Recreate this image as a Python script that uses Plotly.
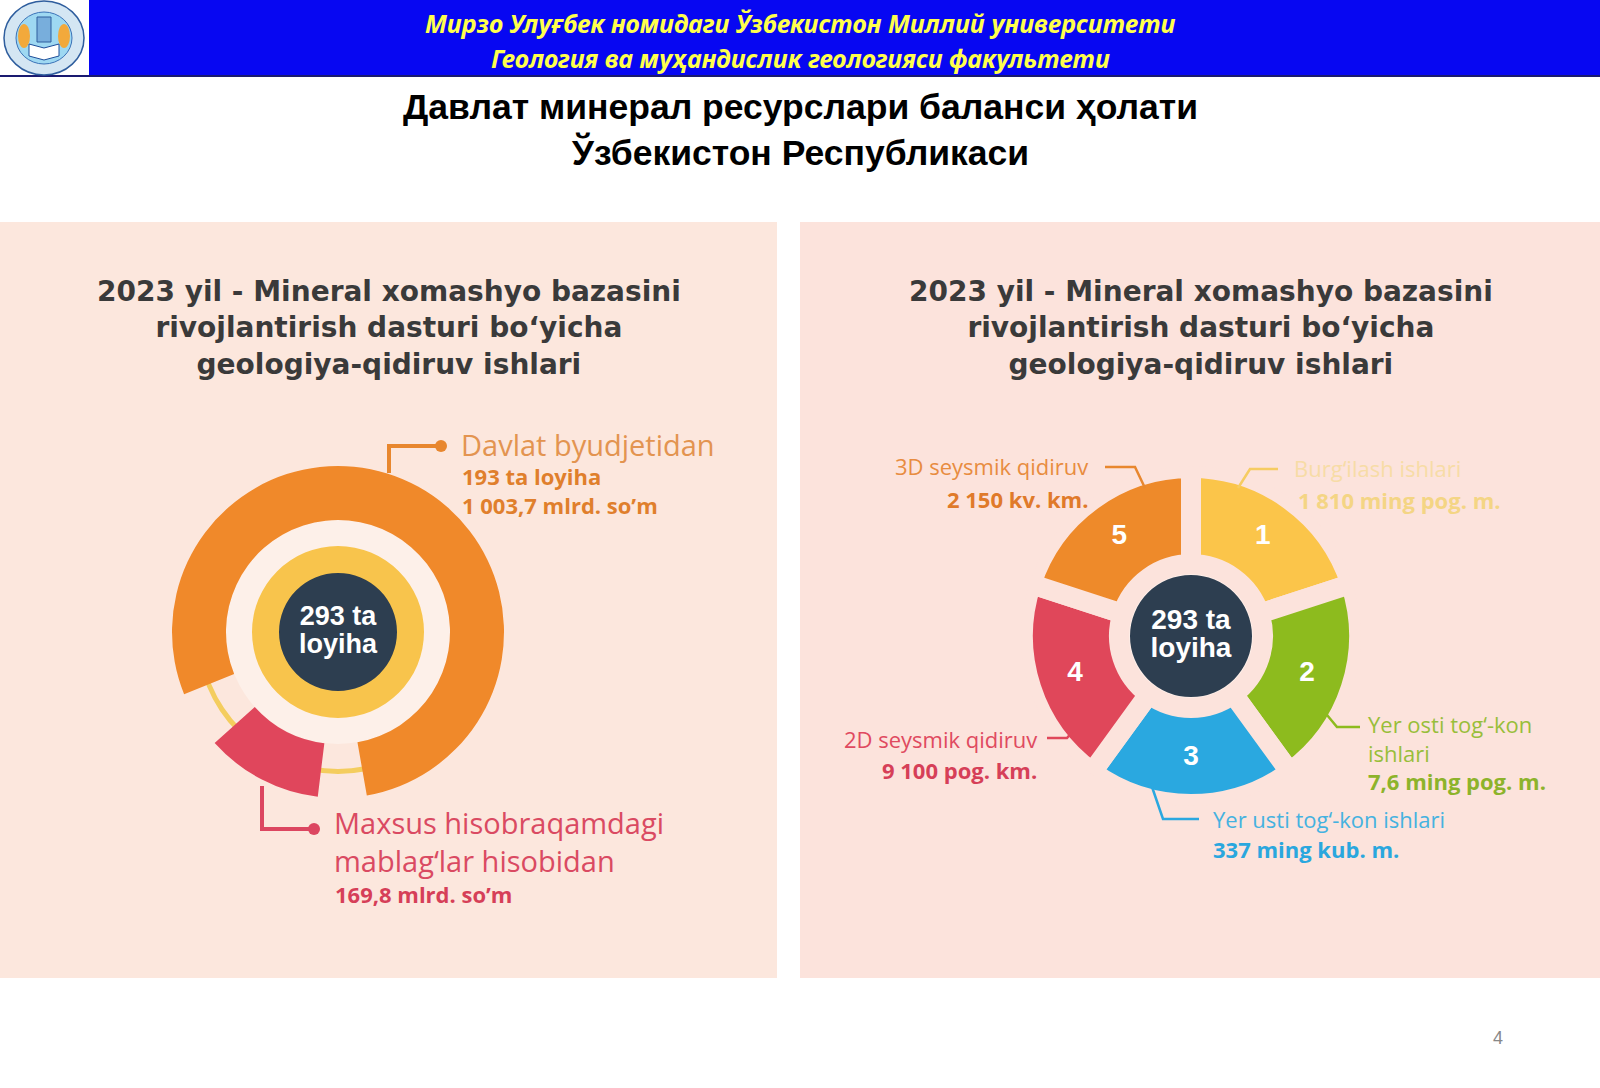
import plotly.graph_objects as go

W, H = 1600, 1088

# ---------------- data ----------------
header_lines = ["Мирзо Улуғбек номидаги Ўзбекистон Миллий университети",
                "Геология ва муҳандислик геологияси факультети"]
title_lines = ["Давлат минерал ресурслари баланси ҳолати", "Ўзбекистон Республикаси"]
panel_title = ["2023 yil - Mineral xomashyo bazasini",
               "rivojlantirish dasturi bo‘yicha",
               "geologiya-qidiruv ishlari"]
total_projects = 293
page_number = "4"

# left chart: funding sources
fund_names = ["Davlat byudjetidan", "Maxsus hisobraqamdagi<br>mablag‘lar hisobidan"]
fund_projects = [193, None]
fund_amounts = ["1 003,7", "169,8"]     # mlrd. so'm

# right chart: works
work_nums = ["1", "2", "3", "4", "5"]
work_names = ["Burg‘ilash ishlari", "Yer osti tog‘-kon<br>ishlari", "Yer usti tog‘-kon ishlari",
              "2D seysmik qidiruv", "3D seysmik qidiruv"]
work_values = ["1 810 ming pog. m.", "7,6 ming pog. m.", "337 ming kub. m.",
               "9 100 pog. km.", "2 150 kv. km."]
work_share = [1, 1, 1, 1, 1]

# ---------------- styles ----------------
PANEL_L = "#FCE7DD"
PANEL_R = "#FCE3DC"
ORANGE = "#F0892A"
RED = "#E0465C"
YELLOW = "#F8C44C"
DARK = "#2D3E50"
work_colors = ["#FBC54A", "#8DBB1E", "#2AA8E0", "#E0475A", "#EE8A2A"]


def X(px):
    return px / W


def Y(py):
    return 1 - py / H


fig = go.Figure()
shapes = []
ann = []


def text(x, y, s, size, color, anchor="left", family="Open Sans", bold=False, italic=False):
    if bold:
        s = "<b>" + s + "</b>"
    if italic:
        s = "<i>" + s + "</i>"
    ann.append(dict(x=X(x), y=Y(y), xref="paper", yref="paper", text=s, showarrow=False,
                    xanchor=anchor, yanchor="middle", align=anchor,
                    font=dict(family=family, size=size, color=color)))


def rect(x0, y0, x1, y1, color, line=None, layer="below"):
    shapes.append(dict(type="rect", xref="paper", yref="paper", x0=X(x0), x1=X(x1), y0=Y(y1), y1=Y(y0),
                       fillcolor=color, line=dict(width=0) if line is None else line, layer=layer))


def circ(cx, cy, rx, color, line=None, layer="above", ry=None):
    ry = rx if ry is None else ry
    shapes.append(dict(type="circle", xref="paper", yref="paper", x0=X(cx - rx), x1=X(cx + rx),
                       y0=Y(cy + ry), y1=Y(cy - ry), fillcolor=color,
                       line=dict(width=0) if line is None else line, layer=layer))


def poly(points, color, width, fill=None):
    d = "M " + " L ".join(f"{X(px)},{Y(py)}" for px, py in points)
    if fill:
        d += " Z"
    shapes.append(dict(type="path", xref="paper", yref="paper", path=d, fillcolor=fill,
                       line=dict(color=color, width=width)))


# ---------------- header ----------------
rect(0, 0, 1600, 77, "#0707F2")
shapes.append(dict(type="line", xref="paper", yref="paper", x0=0, x1=1, y0=Y(76), y1=Y(76),
                   line=dict(color="#1A1A70", width=2)))
# university emblem (simplified)
rect(0, 0, 89, 76, "#FFFFFF")
circ(44, 38, 40, "#D4E6F3", line=dict(color="#2F5E9E", width=1.5), ry=37)
circ(44, 38, 28, "#9ED8F2", line=dict(color="#3B73B8", width=1), ry=26)
circ(24, 36, 6, "#F2A93B", ry=12)
circ(64, 36, 6, "#F2A93B", ry=12)
rect(37, 17, 51, 42, "#78AEDC", line=dict(color="#2F5E9E", width=1), layer="above")
poly([(29, 44), (44, 48), (59, 44), (59, 56), (44, 60), (29, 56)], "#1D4E9A", 1, fill="#FFFFFF")
text(800, 23, header_lines[0], 25, "#FFFF4D", "center", "Noto Sans", bold=True, italic=True)
text(800, 58, header_lines[1], 25, "#FFFF4D", "center", "Noto Sans", bold=True, italic=True)

# ---------------- title ----------------
text(800, 130, "<br>".join(title_lines), 35.5, "#000000", "center", "Liberation Sans", bold=True)

# ---------------- panels ----------------
rect(0, 222, 777, 978, PANEL_L)
rect(800, 222, 1600, 978, PANEL_R)
for cx in (389, 1201):
    text(cx, 328, "<br>".join(panel_title), 28, "#3A3A3A", "center", "DejaVu Sans", bold=True)

# ---------------- polar subplots ----------------
RL = 170
cxL, cyL = 338, 632
cxR, cyR = 1191, 636
polar_common = dict(
    bgcolor="rgba(0,0,0,0)",
    radialaxis=dict(visible=False, range=[0, RL], autorange=False),
    angularaxis=dict(visible=False, rotation=90, direction="clockwise", showgrid=False),
)
fig.update_layout(
    polar=dict(domain=dict(x=[X(cxL - RL), X(cxL + RL)], y=[Y(cyL + RL), Y(cyL - RL)]), **polar_common),
    polar2=dict(domain=dict(x=[X(cxR - RL), X(cxR + RL)], y=[Y(cyR + RL), Y(cyR - RL)]), **polar_common),
)


def disc(r0, r1, color, subplot, theta=0, width=360):
    fig.add_trace(go.Barpolar(base=[r0], r=[r1 - r0], theta=[theta], width=[width],
                              marker=dict(color=color, line=dict(width=0)),
                              subplot=subplot, hoverinfo="skip", showlegend=False))


def center_label(subplot, family, size, rr):
    fig.add_trace(go.Scatterpolar(r=[rr, rr], theta=[0, 180], mode="text",
                                  text=[f"<b>{total_projects} ta</b>", "<b>loyiha</b>"],
                                  textfont=dict(family=family, size=size, color="white"),
                                  subplot=subplot, hoverinfo="skip", showlegend=False))


# ---------------- left chart ----------------
disc(0, 112, "#FDF0E9", "polar")
disc(137, 142, "#F4CD5E", "polar")
fund_theta = [29, 207.5]
fund_width = [282, 41]
fund_colors = [ORANGE, RED]
fig.add_trace(go.Barpolar(base=[112, 112], r=[54, 54], theta=fund_theta, width=fund_width,
                          marker=dict(color=fund_colors, line=dict(width=0)),
                          subplot="polar", hoverinfo="skip", showlegend=False))
disc(0, 86, YELLOW, "polar")
disc(0, 59, DARK, "polar")
center_label("polar", "Liberation Sans", 27, 14)

poly([(389, 473), (389, 446), (441, 446)], "#E8872E", 4)
circ(441, 446, 6, "#E8872E")
poly([(262, 786), (262, 829), (314, 829)], "#DC4660", 4)
circ(314, 829, 6, "#DC4660")

text(459, 444, fund_names[0], 29, "#E39450", "left")
text(460, 490, f"{fund_projects[0]} ta loyiha<br>{fund_amounts[0]} mlrd. so’m", 22, "#E07F2C", "left",
     bold=True)
text(332, 841, fund_names[1], 29, "#DA4A62", "left")
text(333, 894, f"{fund_amounts[1]} mlrd. so’m", 22, "#D63F58", "left", bold=True)

# ---------------- right chart ----------------
disc(0, 84, "#FDEEE8", "polar2")
work_theta = [36 + 72 * i for i in range(5)]
fig.add_trace(go.Barpolar(base=[72] * 5, r=[96 * s for s in work_share], theta=work_theta,
                          width=[72 * s for s in work_share],
                          marker=dict(color=work_colors, line=dict(width=20, color=PANEL_R)),
                          subplot="polar2", hoverinfo="skip", showlegend=False))
disc(0, 61, DARK, "polar2")
fig.add_trace(go.Scatterpolar(r=[122] * 5, theta=work_theta, mode="text",
                              text=[f"<b>{n}</b>" for n in work_nums],
                              textfont=dict(family="Liberation Sans", size=28, color="white"),
                              subplot="polar2", hoverinfo="skip", showlegend=False))
center_label("polar2", "Liberation Sans", 28, 14)

poly([(1105, 467), (1135, 467), (1145, 488)], "#E8872E", 2.5)
poly([(1238, 488), (1250, 469), (1278, 469)], "#F6CC62", 2.5)
poly([(1327, 715), (1337, 727), (1360, 727)], "#8DBB1E", 2.5)
poly([(1151, 784), (1163, 819), (1199, 819)], "#2AA8E0", 2.5)
poly([(1047, 738), (1067, 738), (1073, 731)], "#E0475A", 2.5)

text(1090, 466, work_names[4], 22, "#E88C3F", "right")
text(1090, 499, work_values[4], 22, "#E07A2A", "right", bold=True)
text(1292, 468, work_names[0], 22, "#F7DCA6", "left")
text(1296, 500, work_values[0], 22, "#F4D584", "left", bold=True)
text(1366, 738, work_names[1], 22, "#98BE3A", "left")
text(1366, 781, work_values[1], 22, "#8DB32B", "left", bold=True)
text(1211, 819, work_names[2], 22, "#45B2E0", "left")
text(1211, 849, work_values[2], 22, "#2AA7DE", "left", bold=True)
text(1039, 739, work_names[3], 22, "#E04A60", "right")
text(1039, 770, work_values[3], 22, "#D63F58", "right", bold=True)

# page number
text(1498, 1038, page_number, 18, "#888888", "center", "Liberation Sans")

fig.update_layout(width=W, height=H, margin=dict(l=0, r=0, t=0, b=0),
                  paper_bgcolor="white", plot_bgcolor="white",
                  shapes=shapes, annotations=ann, showlegend=False)
fig.write_html("out.html", config={"displayModeBar": False},
               post_script="document.body.style.margin='0';document.body.style.padding='0';")
